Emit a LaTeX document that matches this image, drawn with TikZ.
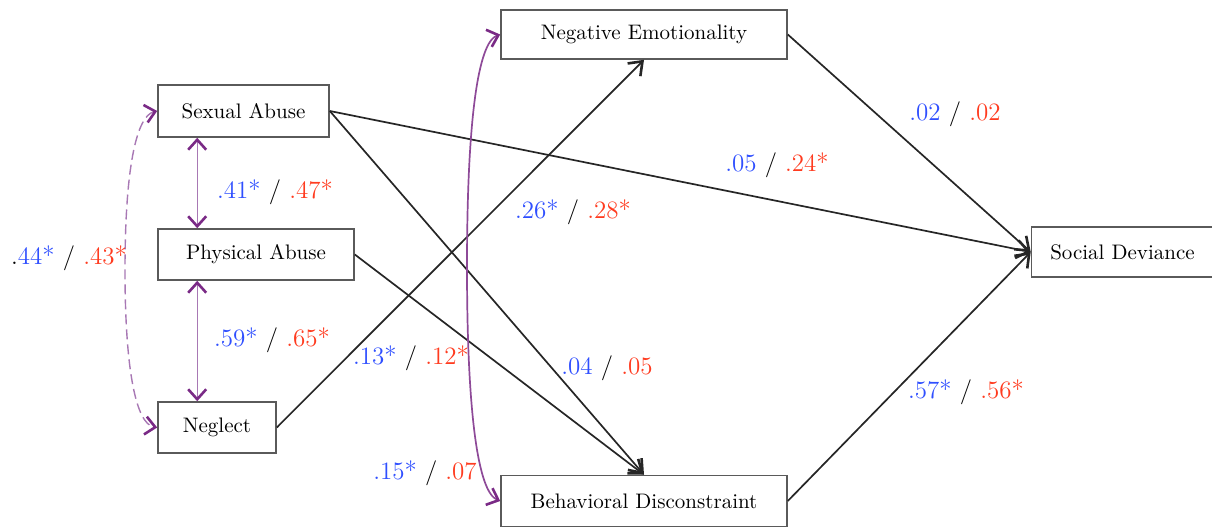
\documentclass[tikz,border=0pt]{standalone}
\usetikzlibrary{arrows.meta}
\definecolor{cblue}{HTML}{2F4FFF}
\definecolor{cred}{HTML}{FF3B1F}
\definecolor{cpurp}{HTML}{7A2A86}
\definecolor{cpurpl}{HTML}{A878B4}
\definecolor{cbox}{HTML}{5A5A5A}
\tikzset{
  varbox/.style={draw=cbox, line width=0.8pt, fill=white, inner sep=0pt, font=\fontsize{10.5}{12}\selectfont},
  lab/.style={font=\fontsize{12.5}{14}\selectfont, inner sep=0pt},
  path/.style={draw=black!85, line width=0.85pt, -{Straight Barb[length=6pt,width=9pt,line width=1.3pt]}},
  cov/.style={draw=cpurpl, line width=0.7pt, {Straight Barb[length=5pt,width=9pt,line width=1.3pt,color=cpurp]}-{Straight Barb[length=5pt,width=9pt,line width=1.3pt,color=cpurp]}},
  covd/.style={cov, dashed, dash pattern=on 5pt off 2.5pt},
  covk/.style={cov, draw=cpurp!85, line width=0.85pt}
}
\newcommand{\bl}[1]{\textcolor{cblue}{#1}}
\newcommand{\rd}[1]{\textcolor{cred}{#1}}
\begin{document}
\begin{tikzpicture}[x=0.5pt,y=-0.5pt]
\useasboundingbox (0,0) rectangle (1212,529);
\clip (0,0) rectangle (1212,529);
% boxes
\node[varbox, minimum width=85.5pt, minimum height=26pt] (SA) at (243.5,111) {Sexual Abuse};
\node[varbox, minimum width=98pt, minimum height=25.5pt] (PA) at (256,254.5) {Physical Abuse};
\node[varbox, minimum width=59pt, minimum height=25.5pt] (NG) at (217,427.5) {Neglect};
\node[varbox, minimum width=143pt, minimum height=24.5pt] (NE) at (644,34.5) {Negative Emotionality};
\node[varbox, minimum width=143pt, minimum height=25.5pt] (BD) at (644,501) {Behavioral Disconstraint};
\node[varbox, minimum width=91pt, minimum height=25pt] (SD) at (1122.5,252) {Social Deviance};
% directed paths
\draw[path] (SA.east) -- (SD.west);
\draw[path] (SA.east) -- (BD.north);
\draw[path] (PA.east) -- (BD.north);
\draw[path] (NG.east) -- (NE.south);
\draw[path] (NE.east) -- (SD.west);
\draw[path] (BD.east) -- (SD.west);
% covariances
\draw[cov] ([xshift=20pt]SA.south west) -- ([xshift=20pt]PA.north west);
\draw[cov] ([xshift=20pt]PA.south west) -- ([xshift=20pt]NG.north west);
\coordinate (m1) at (125,270);
\coordinate (m2) at (467,267);
\draw[covd] (SA.west) .. controls (136,116) and (125,170) .. (m1) .. controls (125,370) and (136,424) .. (NG.west);
\draw[covk] (NE.west) .. controls (478,42) and (467,120) .. (m2) .. controls (467,414) and (478,492) .. (BD.west);
% labels
\node[lab] (l1) at (69,258) {.\bl{44*} / \rd{.43*}};
\node[lab] (l2) at (275,192) {\bl{.41*} / \rd{.47*}};
\node[lab] (l3) at (272,340) {\bl{.59*} / \rd{.65*}};
\node[lab] (l4) at (777,165) {\bl{.05} / \rd{.24*}};
\node[lab] (l5) at (573,212) {\bl{.26*} / \rd{.28*}};
\node[lab] (l6) at (411,358) {\bl{.13*} / \rd{.12*}};
\node[lab] (l7) at (607,368) {\bl{.04} / \rd{.05}};
\node[lab] (l8) at (955,114) {\bl{.02} / \rd{.02}};
\node[lab] (l9) at (966,392) {\bl{.57*} / \rd{.56*}};
\node[lab] (l10) at (425,473) {\bl{.15*} / \rd{.07}};
\end{tikzpicture}
\end{document}
